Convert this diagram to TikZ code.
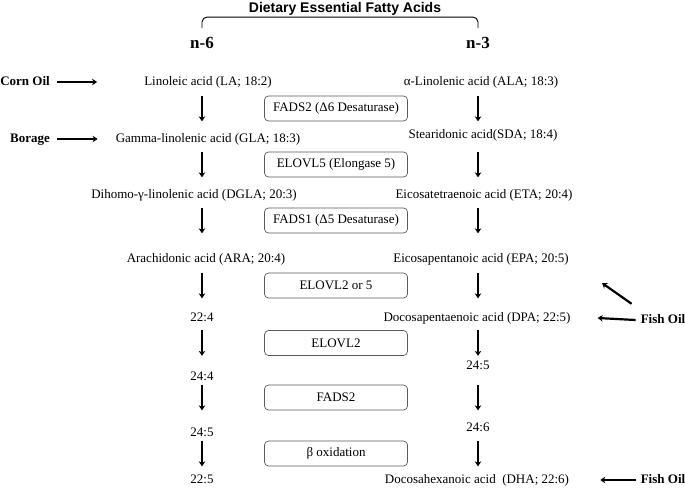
\documentclass[tikz,border=0pt]{standalone}
\usepackage{fontspec}
\setmainfont{Liberation Serif}
\newfontfamily\titlefont{Liberation Sans}
\usetikzlibrary{arrows.meta}
\usetikzlibrary{positioning}

\begin{document}
\begin{tikzpicture}[x=1pt,y=-1pt]
\tikzset{acid/.style={font=\fontsize{13}{15}\selectfont,inner sep=0pt,text height=9pt,text depth=3pt},
source/.style={acid,font=\fontsize{13}{15}\selectfont\bfseries},
enzyme/.style={draw=black!65,line width=0.7pt,rounded corners=4pt,minimum width=143pt,minimum height=25pt,inner sep=0pt,font=\fontsize{13}{15}\selectfont},
series/.style={inner sep=0pt,font=\fontsize{17}{19}\selectfont\bfseries},
flow/.style={line width=2.2pt,-{Stealth[length=5pt,width=6.5pt]}}}
\useasboundingbox (0,0) rectangle (685,487);
\node[font=\titlefont\fontsize{14}{16}\selectfont\bfseries](title) at (345,9){Dietary Essential Fatty Acids};
\node[series](n6) at (202,43){n-6};
\node[series](n3) at (478,43){n-3};
\draw[line width=0.9pt,rounded corners=5pt]([yshift=9pt]n6.north) |- ([yshift=20pt]n3.north) -- ([yshift=9pt]n3.north);
% n-6 side
\node[acid](la) at (208,82){Linoleic acid (LA; 18:2)};
\node[acid](gla) at (208,139){Gamma-linolenic acid (GLA; 18:3)};
\node[acid](dgla) at (194,195){Dihomo-γ-linolenic acid (DGLA; 20:3)};
\node[acid](ara) at (206,259){Arachidonic acid (ARA; 20:4)};
\node[acid](c224) at (202,318){22:4};
\node[acid](c244) at (202,377){24:4};
\node[acid](c245) at (202,433){24:5};
\node[acid](c225) at (202,480){22:5};
% n-3 side
\node[acid](ala) at (481,82){α-Linolenic acid (ALA; 18:3)};
\node[acid](sda) at (483,135){Stearidonic acid(SDA; 18:4)};
\node[acid](eta) at (484,195){Eicosatetraenoic acid (ETA; 20:4)};
\node[acid](epa) at (481,259){Eicosapentanoic acid (EPA; 20:5)};
\node[acid](dpa) at (477,318){Docosapentaenoic acid (DPA; 22:5)};
\node[acid](c245r) at (478,366){24:5};
\node[acid](c246) at (478,428){24:6};
\node[acid](dha) at (477,480){Docosahexanoic acid\ \ (DHA; 22:6)};
% enzymes
\node[enzyme](fads2) at (336,108.5){FADS2 (Δ6 Desaturase)};
\node[enzyme](elovl5) at (336,164.5){ELOVL5 (Elongase 5)};
\node[enzyme](fads1) at (336,220.5){FADS1 (Δ5 Desaturase)};
\node[enzyme](elovl25) at (336,285.5){ELOVL2 or 5};
\node[enzyme](elovl2) at (336,343){ELOVL2};
\node[enzyme](fads2b) at (336,397.5){FADS2};
\node[enzyme](beta) at (336,453.5){β oxidation};
\foreach \e in {fads2,elovl5,fads1,elovl25,elovl2,fads2b,beta}{
  \draw[flow](n6 |- \e.north) -- (n6 |- \e.south);
  \draw[flow](n3 |- \e.north) -- (n3 |- \e.south);
}
% dietary sources
\node[source](corn) at (25,82){Corn Oil};
\node[source](borage) at (30,139){Borage};
\node[source](fish1) at (663,320){Fish Oil};
\node[source](fish2) at (663,480){Fish Oil};
\coordinate (fishup) at (602,283);
\draw[flow]([xshift=7pt]corn.east) -- ([xshift=-47pt]la.west);
\draw[flow]([xshift=7pt]borage.east) -- ([xshift=-18pt]gla.west);
\draw[flow]([xshift=-5pt]fish1.west) -- ([xshift=27pt]dpa.east);
\draw[flow]([xshift=-5pt]fish2.west) -- ([xshift=31pt]dha.east);
\draw[flow]([shift={(-9pt,10pt)}]fish1.north west) -- (fishup);
\end{tikzpicture}
\end{document}
